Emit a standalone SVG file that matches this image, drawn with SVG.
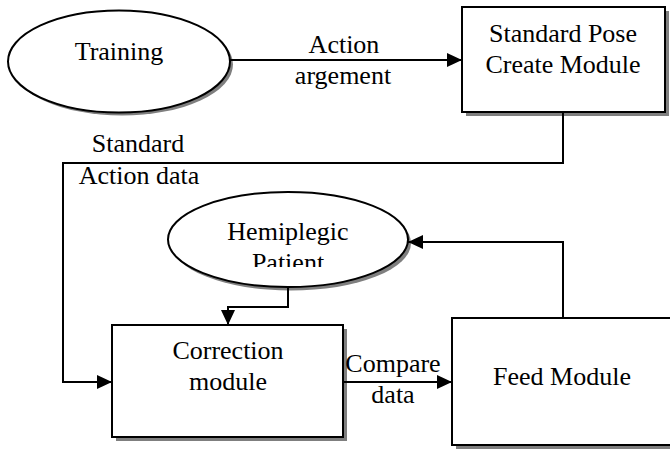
<svg xmlns="http://www.w3.org/2000/svg" width="670" height="450" viewBox="0 0 670 450" font-family="'Liberation Serif', serif" font-size="26">
<style>
.shape{fill:#fff;stroke:#000;stroke-width:2}
.shadow{fill:#7f7f7f;stroke:none}
.conn{fill:none;stroke:#000;stroke-width:2}
.t{font-family:'Liberation Serif',serif;font-size:26px;fill:#000;text-anchor:middle}
</style>
<defs>
<marker id="arr" viewBox="0 0 15 14" refX="15" refY="7" markerWidth="15" markerHeight="14" markerUnits="userSpaceOnUse" orient="auto">
<path d="M0,0 L15,7 L0,14 z" fill="#000"/>
</marker>
<clipPath id="clipHemi"><rect x="160" y="190" width="260" height="77"/></clipPath>
</defs>
<rect width="670" height="450" fill="#fff"/>

<g id="training">
<ellipse class="shadow" cx="122" cy="64.5" rx="111" ry="51"/>
<ellipse class="shape" cx="119" cy="61.5" rx="111" ry="51"/>
<text class="t" x="119" y="60">Training</text>
</g>

<g id="standard-pose">
<rect class="shadow" x="466" y="11" width="203" height="105"/>
<rect class="shape" x="462" y="7" width="203" height="105"/>
<text class="t" x="563" y="42">Standard Pose</text>
<text class="t" x="563" y="73">Create Module</text>
</g>

<g id="hemiplegic">
<ellipse class="shadow" cx="291" cy="243" rx="120" ry="47.5"/>
<ellipse class="shape" cx="288" cy="239.5" rx="120" ry="47.5"/>
<text class="t" x="288" y="240">Hemiplegic</text>
<text class="t" x="288" y="271" clip-path="url(#clipHemi)">Patient</text>
</g>

<g id="correction">
<rect class="shadow" x="116" y="329" width="231" height="112"/>
<rect class="shape" x="112" y="325" width="231" height="112"/>
<text class="t" x="228" y="359">Correction</text>
<text class="t" x="228" y="390">module</text>
</g>

<g id="feed">
<rect class="shadow" x="456" y="322" width="230" height="127"/>
<rect class="shape" x="452" y="318" width="230" height="127"/>
<text class="t" x="562" y="385">Feed Module</text>
</g>

<g id="connectors">
<line class="conn" x1="230" y1="60" x2="462" y2="60" marker-end="url(#arr)"/>
<polyline class="conn" points="563,112 563,163 63,163 63,382 112,382" marker-end="url(#arr)"/>
<polyline class="conn" points="288,287 288,307 228,307 228,325" marker-end="url(#arr)"/>
<line class="conn" x1="343" y1="382" x2="452" y2="382" marker-end="url(#arr)"/>
<polyline class="conn" points="563,318 563,242 408,242" marker-end="url(#arr)"/>
</g>

<g id="labels">
<text class="t" x="344" y="53">Action</text>
<text class="t" x="343" y="84">argement</text>
<text class="t" x="138" y="152">Standard</text>
<text class="t" x="139" y="184">Action data</text>
<text class="t" x="393" y="372">Compare</text>
<text class="t" x="393" y="403">data</text>
</g>
</svg>
